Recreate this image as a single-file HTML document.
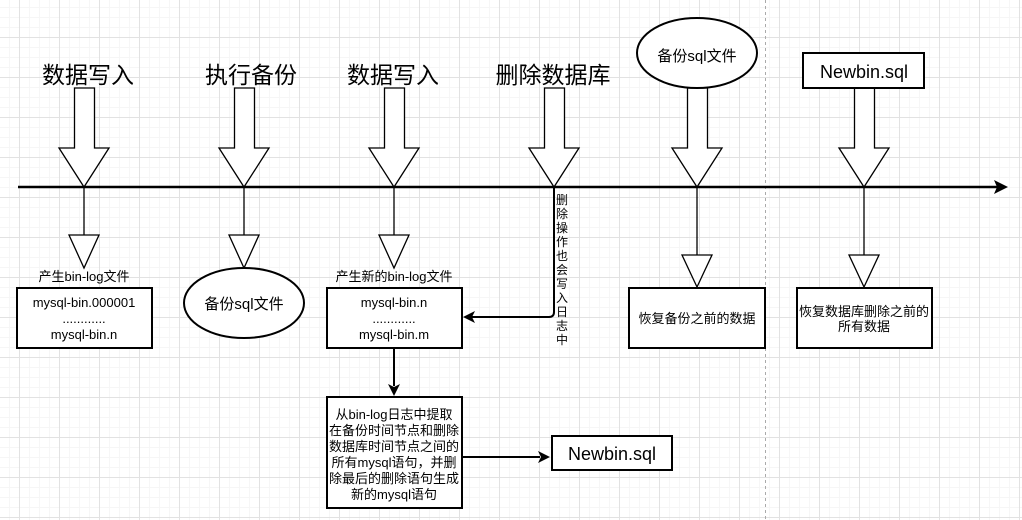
<!DOCTYPE html>
<html><head><meta charset="utf-8"><style>
html,body{margin:0;padding:0;background:#fff;}
svg{display:block;font-family:"Liberation Sans","Noto Sans CJK SC",sans-serif;}
</style></head><body>
<svg width="1022" height="520" viewBox="0 0 1022 520" xmlns="http://www.w3.org/2000/svg">
<defs>
<pattern id="m" x="0" y="8" width="10" height="10" patternUnits="userSpaceOnUse">
<path d="M9.5 0V10M0 9.5H10" stroke="#f6f6f6" stroke-width="1" fill="none"/>
</pattern>
<pattern id="g" x="0" y="18" width="40" height="40" patternUnits="userSpaceOnUse">
<path d="M19.5 0V40M0 19.5H40" stroke="#e2e2e2" stroke-width="1" fill="none"/>
</pattern>
</defs>
<rect width="1022" height="520" fill="url(#m)"/>
<rect width="1022" height="520" fill="url(#g)"/>
<line x1="765.5" y1="0" x2="765.5" y2="520" stroke="#aaa" stroke-dasharray="3,3"/>
<!-- timeline -->
<line x1="18" y1="187" x2="998" y2="187" stroke="#000" stroke-width="2.5"/>
<path d="M1008 187 L994 180 L997 187 L994 194Z" fill="#000"/>
<g fill="#fff" stroke="#000" stroke-width="1.3">
<path d="M74.5 88H94.5V148H109L84 187L59 148H74.5Z"/>
<path d="M234.5 88H254.5V148H269L244 187L219 148H234.5Z"/>
<path d="M384.5 88H404.5V148H419L394 187L369 148H384.5Z"/>
<path d="M544.5 88H564.5V148H579L554 187L529 148H544.5Z"/>
<path d="M687.5 88H707.5V148H722L697 187L672 148H687.5Z"/>
<path d="M854.5 88H874.5V148H889L864 187L839 148H854.5Z"/>
<line x1="84" y1="187" x2="84" y2="235"/><path d="M69 235H99L84 268Z"/>
<line x1="244" y1="187" x2="244" y2="235"/><path d="M229 235H259L244 268Z"/>
<line x1="394" y1="187" x2="394" y2="235"/><path d="M379 235H409L394 268Z"/>
<line x1="697" y1="187" x2="697" y2="255"/><path d="M682 255H712L697 287Z"/>
<line x1="864" y1="187" x2="864" y2="255"/><path d="M849 255H879L864 287Z"/>
</g>
<g fill="#fff" stroke="#000" stroke-width="2">
<rect x="17" y="288" width="135" height="60"/>
<ellipse cx="244" cy="303" rx="60" ry="35"/>
<rect x="327" y="288" width="135" height="60"/>
<ellipse cx="697" cy="53" rx="60" ry="35"/>
<rect x="803" y="53" width="121" height="35"/>
<rect x="629" y="288" width="136" height="60"/>
<rect x="797" y="288" width="135" height="60"/>
<rect x="327" y="397" width="135" height="111"/>
<rect x="552" y="436" width="120" height="34"/>
</g>
<path d="M554 187V312Q554 317 549 317H472" fill="none" stroke="#000" stroke-width="2"/>
<path d="M463 317L475 311L472 317L475 323Z" fill="#000"/>
<line x1="394" y1="348" x2="394" y2="386" stroke="#000" stroke-width="2"/>
<path d="M394 396L388 384L394 387L400 384Z" fill="#000"/>
<line x1="462" y1="457" x2="540" y2="457" stroke="#000" stroke-width="2"/>
<path d="M550 457L538 451L541 457L538 463Z" fill="#000"/>
<g fill="#000" text-anchor="middle">
<g font-size="23">
<text x="88" y="83">数据写入</text>
<text x="251" y="83">执行备份</text>
<text x="393" y="83">数据写入</text>
<text x="553" y="83">删除数据库</text>
</g>
<g font-size="13">
<text x="84" y="281">产生bin-log文件</text>
<text x="84" y="307">mysql-bin.000001</text>
<text x="84" y="323">............</text>
<text x="84" y="339">mysql-bin.n</text>
<text x="394" y="281">产生新的bin-log文件</text>
<text x="394" y="307">mysql-bin.n</text>
<text x="394" y="323">............</text>
<text x="394" y="339">mysql-bin.m</text>
<text x="697" y="323">恢复备份之前的数据</text>
<text x="864" y="316">恢复数据库删除之前的</text>
<text x="864" y="331">所有数据</text>
<text x="394" y="419">从bin-log日志中提取</text>
<text x="394" y="435">在备份时间节点和删除</text>
<text x="394" y="451">数据库时间节点之间的</text>
<text x="394" y="467">所有mysql语句，并删</text>
<text x="394" y="483">除最后的删除语句生成</text>
<text x="394" y="499">新的mysql语句</text>
</g>
<g font-size="15">
<text x="244" y="309">备份sql文件</text>
<text x="697" y="61">备份sql文件</text>
</g>
<g font-size="18">
<text x="864" y="78">Newbin.sql</text>
<text x="612" y="460">Newbin.sql</text>
</g>
<g font-size="12">
<text x="562" y="204">删</text><text x="562" y="218">除</text><text x="562" y="232">操</text>
<text x="562" y="246">作</text><text x="562" y="260">也</text><text x="562" y="274">会</text>
<text x="562" y="288">写</text><text x="562" y="302">入</text><text x="562" y="316">日</text>
<text x="562" y="330">志</text><text x="562" y="344">中</text>
</g>
</g>
</svg>
</body></html>
